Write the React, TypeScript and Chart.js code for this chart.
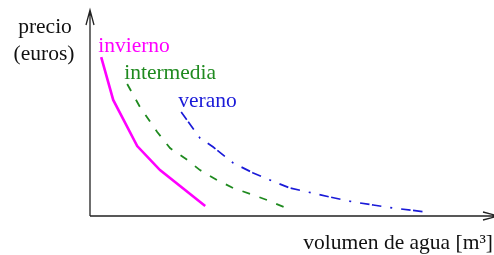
import React, { useEffect, useRef } from "react";
import { Chart, registerables } from "chart.js";

Chart.register(...registerables);

// Series (arbitrary units: volume 0..100, price 0..100)
const seriesNames = ["invierno", "intermedia", "verano"];
const inviernoX = [2.8, 5.8, 11.8, 17.5, 28.8];
const inviernoY = [77.9, 56.9, 34.3, 22.5, 4.9];
const intermediaX = [9.3, 12.5, 16.8, 20, 24.3, 27.5, 31.8, 35.8, 40.8, 44.3, 48.5];
const intermediaY = [64.7, 53.4, 41.2, 33.3, 27.5, 22.5, 17.6, 13.7, 10.3, 7.8, 4.4];
const veranoX = [22.8, 27.5, 30.8, 35.8, 40.8, 45.5, 50, 55.5, 60, 65.8, 70.8, 75.8, 83.8];
const veranoY = [51, 38.2, 33.8, 26, 21.1, 17.2, 13.7, 11.3, 9.3, 6.9, 5.4, 3.9, 2];
const yAxisLabel = ["precio", "(euros)"];
const xAxisLabel = "volumen de agua [m³]";

const colors = ["#ff00ff", "#1f8a1f", "#1a1ad8"];
const dashes = [[], [8, 10], [9.5, 2.5, 9.5, 9, 2, 9]];
const widths = [2.6, 1.8, 1.7];

const FONT = '21.5px "Liberation Serif", "DejaVu Serif", serif';

const toPts = (xs: number[], ys: number[]) => xs.map((x, i) => ({ x, y: ys[i] }));

const overlay = {
  id: "overlay",
  afterDraw(chart: any) {
    const { ctx, chartArea } = chart;
    const { left, top, right, bottom } = chartArea;
    ctx.save();
    // axes
    ctx.strokeStyle = "#222";
    ctx.lineWidth = 1.3;
    ctx.setLineDash([]);
    ctx.beginPath();
    ctx.moveTo(left, bottom);
    ctx.lineTo(left, top - 2);
    ctx.moveTo(left - 4, top + 13);
    ctx.lineTo(left, top - 2);
    ctx.lineTo(left + 4, top + 13);
    ctx.moveTo(left, bottom);
    ctx.lineTo(right + 8, bottom);
    ctx.moveTo(right - 7, bottom - 4);
    ctx.lineTo(right + 8, bottom);
    ctx.lineTo(right - 7, bottom + 4);
    ctx.stroke();

    ctx.font = FONT;
    ctx.fillStyle = "#111";
    ctx.textAlign = "center";
    ctx.textBaseline = "alphabetic";
    ctx.fillText(yAxisLabel[0], left - 45, top + 21);
    ctx.fillText(yAxisLabel[1], left - 46, top + 48);
    ctx.textAlign = "right";
    ctx.fillText(xAxisLabel, right + 3, bottom + 33);

    // series labels next to first point
    ctx.textAlign = "left";
    chart.data.datasets.forEach((ds: any, i: number) => {
      const meta = chart.getDatasetMeta(i);
      const p = meta.data[0];
      ctx.fillStyle = ds.borderColor;
      ctx.fillText(ds.label, p.x - 3, p.y - 5);
    });
    ctx.restore();
  },
};

export default function App() {
  const ref = useRef<HTMLCanvasElement>(null);
  useEffect(() => {
    const canvas = ref.current!;
    const sets = [
      toPts(inviernoX, inviernoY),
      toPts(intermediaX, intermediaY),
      toPts(veranoX, veranoY),
    ];
    const chart = new Chart(canvas, {
      type: "scatter",
      data: {
        datasets: sets.map((d, i) => ({
          label: seriesNames[i],
          data: d,
          showLine: true,
          borderColor: colors[i],
          backgroundColor: colors[i],
          borderWidth: widths[i],
          borderDash: dashes[i],
          pointRadius: 0,
          tension: 0,
          fill: false,
        })),
      },
      options: {
        responsive: false,
        animation: false,
        layout: { padding: { left: 90, top: 12, right: 4, bottom: 39 } },
        plugins: { legend: { display: false }, tooltip: { enabled: false } },
        scales: {
          x: { type: "linear", min: 0, max: 100, display: false },
          y: { type: "linear", min: 0, max: 100, display: false },
        },
      },
      plugins: [overlay],
    });
    return () => chart.destroy();
  }, []);
  return (
    <div style={{ position: "fixed", left: 0, top: 0, width: 494, height: 255, background: "#fff" }}>
      <canvas ref={ref} width={494} height={255} style={{ display: "block" }} />
    </div>
  );
}
